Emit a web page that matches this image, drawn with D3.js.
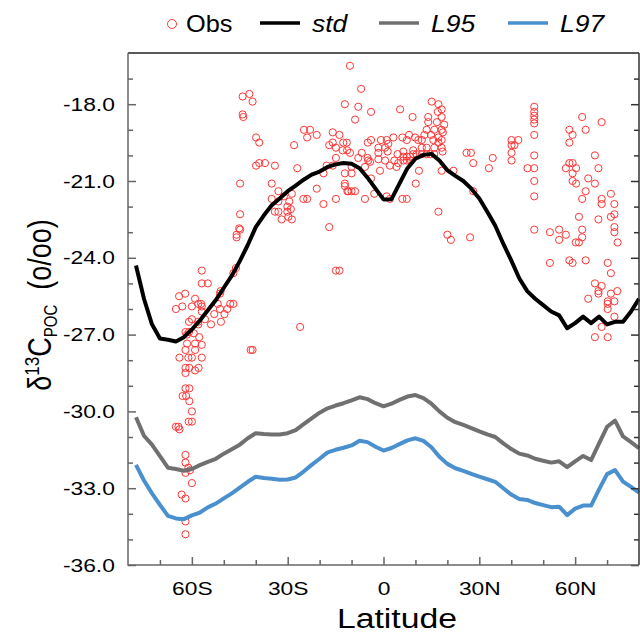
<!DOCTYPE html>
<html>
<head>
<meta charset="utf-8">
<script src="https://cdn.jsdelivr.net/npm/d3@7"></script>
<style>
  body { margin: 0; background: #fff; }
  text { font-family: "Liberation Sans", Arial, sans-serif; }
</style>
</head>
<body>
<svg id="chart" width="640" height="636"></svg>
<script>
// latitude grid of the model curves
const lat = [-77.5,-75,-72.5,-70,-67.5,-65,-62.5,-60,-57.5,-55,-52.5,-50,-47.5,-45,-42.5,-40,
  -37.5,-35,-32.5,-30,-27.5,-25,-22.5,-20,-17.5,-15,-12.5,-10,-7.5,-5,-2.5,0,
  2.5,5,7.5,10,12.5,15,17.5,20,22.5,25,27.5,30,32.5,35,37.5,40,
  42.5,45,47.5,50,52.5,55,57.5,60,62.5,65,67.5,70,72.5,75,77.5,80];

const stdVals = [-24.3,-25.6,-26.6,-27.15,-27.2,-27.27,-27.1,-26.8,-26.45,-26.05,-25.65,-25.17,-24.7,-24.13,-23.5,-22.8,
  -22.35,-21.95,-21.68,-21.4,-21.18,-20.95,-20.75,-20.63,-20.45,-20.35,-20.3,-20.33,-20.5,-20.87,-21.3,-21.72,
  -21.71,-21.1,-20.5,-20.13,-19.98,-19.94,-20.2,-20.58,-20.8,-21.0,-21.3,-21.68,-22.2,-22.75,-23.45,-24.1,
  -24.8,-25.3,-25.6,-25.85,-26.1,-26.25,-26.75,-26.55,-26.3,-26.55,-26.3,-26.6,-26.5,-26.5,-26.1,-25.6];

const l95Vals = [-30.23,-30.95,-31.3,-31.75,-32.2,-32.25,-32.32,-32.25,-32.1,-31.97,-31.85,-31.65,-31.48,-31.3,-31.05,-30.85,
  -30.88,-30.9,-30.9,-30.85,-30.73,-30.5,-30.27,-30.05,-29.88,-29.77,-29.68,-29.57,-29.45,-29.52,-29.68,-29.8,
  -29.7,-29.55,-29.42,-29.36,-29.48,-29.7,-30.0,-30.25,-30.42,-30.53,-30.65,-30.78,-30.9,-31.0,-31.25,-31.47,
  -31.65,-31.72,-31.85,-31.93,-32.0,-31.95,-32.18,-31.95,-31.74,-31.9,-31.25,-30.6,-30.36,-30.98,-31.2,-31.44];

const l97Vals = [-32.09,-32.7,-33.2,-33.65,-34.08,-34.18,-34.21,-34.06,-33.95,-33.75,-33.6,-33.4,-33.2,-32.98,-32.75,-32.55,
  -32.6,-32.63,-32.67,-32.66,-32.58,-32.35,-32.09,-31.85,-31.6,-31.5,-31.42,-31.33,-31.15,-31.2,-31.38,-31.53,
  -31.43,-31.28,-31.13,-31.05,-31.15,-31.4,-31.77,-32.05,-32.22,-32.32,-32.44,-32.55,-32.65,-32.75,-33.0,-33.25,
  -33.42,-33.46,-33.58,-33.66,-33.74,-33.72,-34.05,-33.8,-33.68,-33.68,-33.05,-32.45,-32.29,-32.74,-32.95,-33.17];

// observations: [latitude, d13C]
const obs = [
  [-62,-26.9],[-61.5,-27.0],[-59.4,-26.95],[-57.7,-27.1],[-61.5,-27.35],[-59,-27.35],[-56.9,-27.4],[-62,-27.6],
  [-59,-27.6],[-63.9,-27.9],[-61.1,-27.9],[-60,-27.9],[-56.9,-27.9],[-62,-28.3],[-60.8,-28.3],[-57.9,-28.3],
  [-59,-28.4],[-62,-28.5],[-62,-29.1],[-60.8,-29.1],[-62.9,-29.4],[-61.8,-29.4],[-60.8,-29.6],[-60,-30.0],
  [-61,-30.4],[-60,-30.4],[-65,-30.6],[-64.2,-30.6],[-63.9,-30.7],[-62,-31.7],[-62,-32.0],[-61.1,-32.2],
  [-60.6,-32.3],[-62,-32.4],[-60,-32.8],[-63.2,-33.25],[-62,-33.4],[-62,-34.3],[-62,-34.8],
  [-41.6,-27.6],[-41,-27.6],
  [-45.2,-22.85],[-44.9,-22.9],[-46,-23.1],[-46,-23.2],[-56.9,-24.5],[-56.9,-25.0],[-55,-25.0],[-46.2,-24.4],
  [-47,-24.6],[-51,-25.3],[-51.2,-25.4],[-64,-25.5],[-62.1,-25.4],[-59,-25.6],[-58,-25.8],[-57.1,-25.8],
  [-56.9,-25.9],[-63,-25.9],[-60,-25.9],[-65,-26.0],[-56.9,-26.1],[-51.9,-25.8],[-48,-25.8],[-47,-25.8],
  [-48.9,-26.0],[-51.2,-26.0],[-49.8,-26.2],[-53,-26.2],[-55.9,-26.4],[-60,-26.4],[-60.9,-26.5],[-58,-26.5],
  [-58,-26.6],[-54,-26.6],[-50.9,-26.5],[-60.9,-26.9],
  [-44.1,-17.7],[-42,-17.6],[-41,-17.9],[-44.1,-18.4],[-43.9,-18.5],[-39.9,-19.3],[-38.9,-19.5],[-44.9,-21.1],
  [-39.9,-20.4],[-38.9,-20.3],[-37.1,-20.3],[-44.9,-22.3],
  [-12.1,-18.0],[-10.5,-16.5],[-24.9,-19.0],[-23,-19.0],[-23.9,-19.3],[-20.9,-19.2],[-28,-19.6],[-15.9,-19.1],
  [-13.8,-19.2],[-12.6,-19.5],[-15.9,-19.5],[-17,-19.6],[-14.9,-19.7],[-11.5,-19.5],[-12.8,-19.8],[-14.9,-20.1],
  [-34,-20.4],[-27,-20.5],[-17.8,-20.4],[-15.9,-20.4],[-18.8,-20.7],[-12.1,-20.7],[-35,-21.1],[-12.1,-21.1],
  [-12.1,-21.2],[-11.3,-21.4],[-32.9,-21.4],[-20.9,-21.3],[-28.7,-21.5],[-31.2,-21.6],[-35,-21.7],[-25.1,-21.7],
  [-23.9,-21.7],[-14.9,-21.7],[-29.5,-21.8],[-32.9,-21.8],[-18.8,-21.9],[-30.1,-22.0],[-34,-22.2],[-32.9,-22.2],
  [-30.1,-22.2],[-29,-22.1],[-29.8,-22.4],[-28.7,-22.5],[-31.9,-22.5],[-17,-22.8],[-26.1,-26.7],[-14.9,-24.5],
  [-13.8,-24.5],[-10,-20.7],[-11,-21.4],[-10,-21.4],[-8.9,-21.4],
  [-7,-17.4],[-7.9,-18.1],[-3.9,-18.3],[-8.9,-18.6],[5.2,-18.2],[15.1,-17.9],[17.2,-18.0],[18.2,-18.2],
  [17,-18.3],[18.2,-18.5],[9.1,-18.5],[14,-18.5],[19,-18.8],[16.7,-18.7],[14,-18.7],[15.9,-19.0],
  [18.2,-19.0],[13.5,-19.0],[12.8,-19.2],[14.9,-19.2],[17.2,-19.3],[-3.9,-19.4],[-4.9,-19.5],[-0.8,-19.4],
  [1,-19.4],[3.1,-19.3],[5.9,-19.3],[7.3,-19.4],[8,-19.2],[9.9,-19.3],[10.9,-19.4],[12,-19.4],
  [15.6,-19.4],[17.2,-19.5],[18.2,-19.4],[-1.6,-19.7],[0.5,-19.7],[1.5,-19.55],[-6.8,-19.9],[-11.4,-19.8],
  [-10.5,-19.9],[-1.6,-19.9],[1.3,-19.85],[4.4,-19.95],[6.2,-19.85],[9.3,-19.8],[12,-19.7],[13.5,-19.7],
  [15.9,-19.7],[18.2,-19.7],[6.2,-20.05],[7.3,-20.05],[8.3,-20.05],[9.3,-19.95],[10.4,-19.95],[12,-19.95],
  [13.5,-19.95],[14.6,-19.95],[15.9,-19.95],[6.2,-20.2],[7.3,-20.2],[8.6,-20.2],[-7.9,-20.1],[-4.8,-20.2],
  [-1.6,-20.15],[0.5,-20.2],[3.4,-20.2],[4.6,-20.3],[2,-20.4],[4.1,-20.45],[-5.8,-20.45],[-4.2,-20.25],
  [-10,-20.45],[-1.1,-20.6],[11.1,-20.6],[18.2,-20.6],[21.9,-20.6],[-3.9,-20.9],[10.1,-21.1],[-2.9,-21.5],
  [-5.8,-21.7],[1,-21.6],[2,-21.7],[5.9,-21.7],[7.3,-21.7],[17.2,-22.2],[20,-23.1],[21.1,-23.3],
  [-5,-20.1],[18.5,-19.85],[18.6,-19.1],
  [47.2,-18.1],[47.2,-18.3],[47.2,-18.45],[47.2,-18.6],[47.2,-18.75],[47.2,-19.2],[40.1,-19.4],[42.2,-19.4],
  [40.1,-19.6],[41,-19.6],[40.1,-19.9],[40.1,-20.2],[34.2,-20.1],[33,-20.5],[26,-19.9],[27.4,-19.9],
  [28.1,-20.3],[47.2,-20.0],[45.1,-20.5],[47.2,-20.5],[47.2,-21.0],[47.2,-21.6],[28.1,-21.4],[47.2,-22.9],
  [27.1,-23.2],
  [62.2,-18.5],[68.3,-18.7],[58.2,-19.0],[63.3,-19.0],[59.2,-19.2],[58.2,-19.5],[66.2,-20.0],[58.2,-20.3],
  [59.2,-20.3],[57.1,-20.5],[60.3,-20.5],[67.3,-20.5],[59.2,-20.7],[59.2,-21.0],[60.3,-21.1],[64.1,-20.9],
  [66.2,-21.1],[63.3,-21.4],[62.2,-21.7],[71.2,-21.5],[68.3,-21.7],[68.3,-21.9],[72.3,-21.9],[61.2,-22.4],
  [67.3,-22.5],[72.3,-22.3],[71.2,-22.4],[72.3,-22.8],[72.3,-23.0],[73.3,-23.4],[52.1,-23.0],[55,-22.9],
  [55,-23.3],[57.1,-23.1],[62.2,-22.9],[62.2,-23.2],[60.2,-23.4],[61.2,-23.4],[52.1,-24.2],[58.2,-24.1],
  [59.2,-24.2],[63.3,-24.1],[70.2,-24.2],[71.2,-24.6],[66.2,-25.0],[68.3,-25.1],[67.3,-25.3],[67.3,-25.4],
  [73.2,-25.3],[71.2,-25.4],[64.1,-25.6],[70.2,-25.7],[72.3,-25.7],[70.2,-25.8],[70.2,-26.0],[72.3,-26.3],
  [68.3,-26.7],[66.2,-27.1],[70.2,-27.1]
];

const yMajor = [-36,-33,-30,-27,-24,-21,-18];
const yMinor = [-35,-34,-32,-31,-29,-28,-26,-25,-23,-22,-20,-19,-17];
const xMajor = [-60,-30,0,30,60];
const xMinor = [-70,-50,-40,-20,-10,10,20,40,50,70];

const series = [
  { name: "std", vals: stdVals, color: "#000000" },
  { name: "L95", vals: l95Vals, color: "#707070" },
  { name: "L97", vals: l97Vals, color: "#4a90cf" }
];

// plot box
const plotLeft = 128, plotRight = 639, plotTop = 53, plotBottom = 565;
const sx = 1.2; // text in the reference is stretched sideways

const x = d3.scaleLinear().domain([-80, 80]).range([plotLeft, plotRight]);
const y = d3.scaleLinear().domain([-36, -16]).range([plotBottom, plotTop]);

const svg = d3.select("#chart");

// observations
svg.append("g")
  .selectAll("circle")
  .data(obs)
  .join("circle")
  .attr("cx", d => x(d[0]))
  .attr("cy", d => y(d[1]))
  .attr("r", 3.6)
  .attr("fill", "none")
  .attr("stroke", "#ff3535")
  .attr("stroke-width", 1);

// model curves
const line = d3.line().x((d, i) => x(lat[i])).y(d => y(d));
svg.append("g")
  .selectAll("path")
  .data(series)
  .join("path")
  .attr("d", d => line(d.vals))
  .attr("fill", "none")
  .attr("stroke", d => d.color)
  .attr("stroke-width", 4)
  .attr("stroke-linejoin", "round");

// axes, ticks pointing inward
function styleAxis(g, color) {
  g.select(".domain").remove();
  g.selectAll("line").attr("stroke", color).attr("stroke-width", 1.5);
}

const yAxis = svg.append("g")
  .attr("transform", `translate(${plotLeft},0)`)
  .call(d3.axisLeft(y).tickValues(yMajor).tickSize(-8).tickPadding(11)
    .tickFormat(d => d.toFixed(1)));
styleAxis(yAxis, "#666");
yAxis.selectAll("text")
  .attr("font-size", 19).attr("fill", "#000")
  .attr("font-family", "Liberation Sans, Arial, sans-serif")
  .attr("transform", `scale(${sx},1)`);

svg.append("g")
  .attr("transform", `translate(${plotLeft},0)`)
  .call(d3.axisLeft(y).tickValues(yMinor).tickSize(-5).tickFormat(""))
  .call(g => styleAxis(g, "#666"));

svg.append("g")
  .attr("transform", `translate(${plotRight},0)`)
  .call(d3.axisRight(y).tickValues(yMajor).tickSize(-8).tickFormat(""))
  .call(g => styleAxis(g, "#333"));
svg.append("g")
  .attr("transform", `translate(${plotRight},0)`)
  .call(d3.axisRight(y).tickValues(yMinor).tickSize(-5).tickFormat(""))
  .call(g => styleAxis(g, "#333"));

const xAxis = svg.append("g")
  .attr("transform", `translate(0,${plotBottom})`)
  .call(d3.axisBottom(x).tickValues(xMajor).tickSize(-8)
    .tickFormat(d => d < 0 ? `${-d}S` : d > 0 ? `${d}N` : "0"));
styleAxis(xAxis, "#666");
xAxis.selectAll("text")
  .attr("y", 30).attr("dy", null)
  .attr("font-size", 19).attr("fill", "#000")
  .attr("font-family", "Liberation Sans, Arial, sans-serif")
  .attr("transform", `scale(${sx},1)`);

svg.append("g")
  .attr("transform", `translate(0,${plotBottom})`)
  .call(d3.axisBottom(x).tickValues(xMinor).tickSize(-5).tickFormat(""))
  .call(g => styleAxis(g, "#666"));

// frame
svg.append("line").attr("x1", plotLeft).attr("x2", plotRight).attr("y1", plotTop).attr("y2", plotTop)
  .attr("stroke", "#222").attr("stroke-width", 1.5);
svg.append("line").attr("x1", plotRight).attr("x2", plotRight).attr("y1", plotTop).attr("y2", plotBottom)
  .attr("stroke", "#333").attr("stroke-width", 1.5);
svg.append("line").attr("x1", plotLeft).attr("x2", plotLeft).attr("y1", plotTop).attr("y2", plotBottom + 0.75)
  .attr("stroke", "#666").attr("stroke-width", 1.5);
svg.append("line").attr("x1", plotLeft).attr("x2", plotRight).attr("y1", plotBottom).attr("y2", plotBottom)
  .attr("stroke", "#666").attr("stroke-width", 1.5);

// axis titles
svg.append("text")
  .attr("transform", `translate(397,628) scale(1.25,1)`)
  .attr("text-anchor", "middle")
  .attr("font-size", 27)
  .text("Latitude");

const yt = svg.append("text")
  .attr("transform", `translate(51,305) rotate(-90) scale(1,${sx})`)
  .attr("text-anchor", "middle")
  .attr("font-size", 27);
yt.append("tspan").text("δ");
yt.append("tspan").attr("dy", -10).attr("font-size", 17).text("13");
yt.append("tspan").attr("dy", 10).text("C");
yt.append("tspan").attr("dy", 5).attr("font-size", 15).text("POC");
yt.append("tspan").attr("dy", -5).text("\u00a0\u00a0(o/oo)");

// legend
const legend = svg.append("g");
legend.append("circle").attr("cx", 172).attr("cy", 24).attr("r", 4.5)
  .attr("fill", "none").attr("stroke", "#ff3535").attr("stroke-width", 1);
legend.append("text").attr("transform", `translate(186,32) scale(1.1,1)`)
  .attr("font-size", 23).text("Obs");

const legendX = [260, 379, 508];
series.forEach((s, i) => {
  legend.append("line")
    .attr("x1", legendX[i]).attr("x2", legendX[i] + 40)
    .attr("y1", 23).attr("y2", 23)
    .attr("stroke", s.color).attr("stroke-width", 3.5);
  legend.append("text")
    .attr("transform", `translate(${legendX[i] + 52},32) scale(1.15,1)`)
    .attr("font-size", 23).attr("font-style", "italic")
    .text(s.name);
});
</script>
</body>
</html>
